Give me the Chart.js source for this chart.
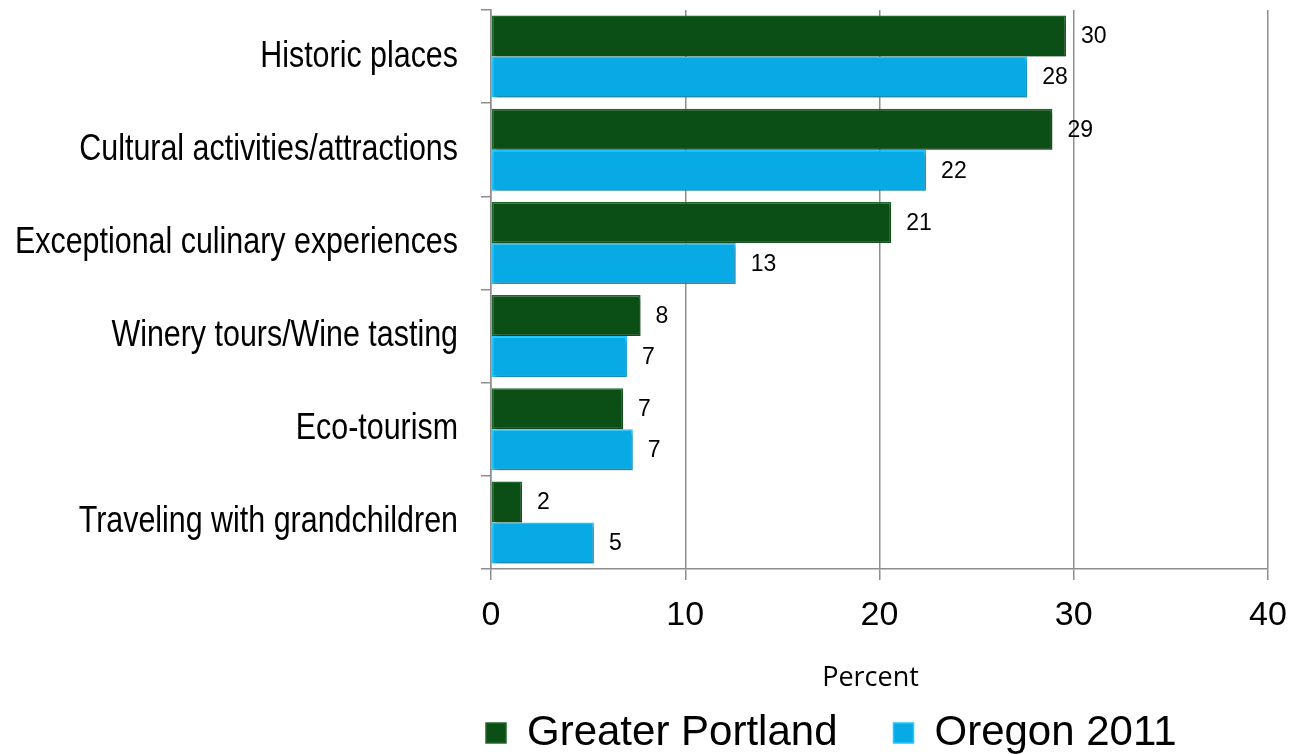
<!DOCTYPE html>
<html><head><meta charset="utf-8">
<script src="https://cdn.jsdelivr.net/npm/chart.js@4.4.1/dist/chart.umd.min.js"></script>
<style>html,body{margin:0;padding:0;background:#fff;overflow:hidden}</style>
</head><body>
<canvas id="c" width="1293" height="754"></canvas>
<script>
const categories = ['Historic places','Cultural activities/attractions','Exceptional culinary experiences','Winery tours/Wine tasting','Eco-tourism','Traveling with grandchildren'];
const seriesNames = ['Greater Portland','Oregon 2011'];
const greaterPortland = [29.6, 28.9, 20.6, 7.7, 6.8, 1.6];
const oregon2011 = [27.6, 22.4, 12.6, 7.0, 7.3, 5.3];
const greaterPortlandLabels = ['30','29','21','8','7','2'];
const oregon2011Labels = ['28','22','13','7','7','5'];
const xTickValues = [0, 10, 20, 30, 40];
const axisTitle = 'Percent';

const grid = '#8e8e8e';
const condense = 0.845;

function zeroPad(scale){ scale.paddingTop=0; scale.paddingBottom=0; scale.paddingLeft=0; scale.paddingRight=0; }

const barPlugin = {
  id:'barStyle',
  beforeDatasetsDraw(chart){
    const ctx=chart.ctx; ctx.save();
    ctx.shadowColor='rgba(0,0,0,0.35)'; ctx.shadowBlur=4; ctx.shadowOffsetX=2; ctx.shadowOffsetY=3;
  },
  afterDatasetsDraw(chart){
    const ctx=chart.ctx; ctx.restore();
    const labelSets=[greaterPortlandLabels, oregon2011Labels];
    ctx.save();
    ctx.font='23px "Liberation Sans", Arial, sans-serif';
    ctx.fillStyle='#000'; ctx.textAlign='left'; ctx.textBaseline='middle';
    chart.data.datasets.forEach((ds,di)=>{
      chart.getDatasetMeta(di).data.forEach((el,i)=>{
        ctx.fillText(labelSets[di][i], el.x+15, el.y+1);
      });
    });
    ctx.restore();
  }
};

const legendShift = {
  id:'legendShift',
  afterLayout(chart){
    const lg=chart.legend; if(!lg) return;
    const pad=lg.options.labels.padding;
    lg.left = chart.chartArea.left - pad - 5;
    lg.top = lg.top - 38;
  }
};

new Chart(document.getElementById('c'), {
  type:'bar',
  data:{
    labels:categories,
    datasets:[
      {label:seriesNames[0], data:greaterPortland, backgroundColor:'#0b4f16', borderColor:'#1f6a2a', borderWidth:1.5, borderSkipped:false},
      {label:seriesNames[1], data:oregon2011, backgroundColor:'#08aae6', borderColor:'#22c8ff', borderWidth:1.5, borderSkipped:false}
    ]
  },
  options:{
    indexAxis:'y',
    responsive:false,
    animation:false,
    devicePixelRatio:1,
    layout:{padding:{top:10,right:25,left:0,bottom:0}},
    datasets:{bar:{categoryPercentage:0.88, barPercentage:1.0}},
    scales:{
      x:{
        min:0,max:40,
        afterBuildTicks(scale){ scale.ticks = xTickValues.map(v=>({value:v})); },
        afterFit(scale){ scale.height = 125; zeroPad(scale); },
        afterUpdate(scale){
          if (scale._shifted) return;
          scale._shifted = true;
          const orig = scale.drawTitle.bind(scale);
          scale.drawTitle = function(){
            const ctx = scale.ctx; ctx.save(); ctx.translate(-9, 1); orig(); ctx.restore();
          };
        },
        grid:{color:grid, lineWidth:1.5, drawTicks:true, tickLength:11, tickColor:grid},
        border:{display:true, color:grid, width:1.5},
        ticks:{color:'#000', padding:15, font:{family:'"Liberation Sans", Arial, sans-serif', size:34}},
        title:{display:true, text:axisTitle, color:'#000', padding:{top:0,bottom:0}, font:{family:'"Open Sans", sans-serif', size:27}}
      },
      y:{
        afterFit(scale){ scale.width = 491; zeroPad(scale); },
        afterUpdate(scale){
          if (scale._condensed) return;
          scale._condensed = true;
          scale._computeLabelArea = function(){ return undefined; };
          const orig = scale.drawLabels.bind(scale);
          scale.drawLabels = function(area){
            const ctx = scale.ctx;
            const xr = scale.right - scale.options.grid.tickLength - scale.options.ticks.padding;
            ctx.save();
            ctx.translate(xr, 0); ctx.scale(condense, 1); ctx.translate(-xr, 0);
            orig(area);
            ctx.restore();
          };
        },
        grid:{display:true, drawOnChartArea:false, drawTicks:true, tickLength:10, offset:true, color:grid, tickColor:grid, lineWidth:1.5},
        border:{display:true, color:grid, width:1.5},
        ticks:{color:'#000', padding:23, font:{family:'"Liberation Sans", Arial, sans-serif', size:36}}
      }
    },
    plugins:{
      legend:{
        position:'bottom', align:'start', fullSize:true, maxHeight:60,
        labels:{color:'#000', boxWidth:20, boxHeight:20, padding:56, font:{family:'"Liberation Sans", Arial, sans-serif', size:42}}
      },
      tooltip:{enabled:false}
    }
  },
  plugins:[barPlugin, legendShift]
});
</script>
</body></html>
